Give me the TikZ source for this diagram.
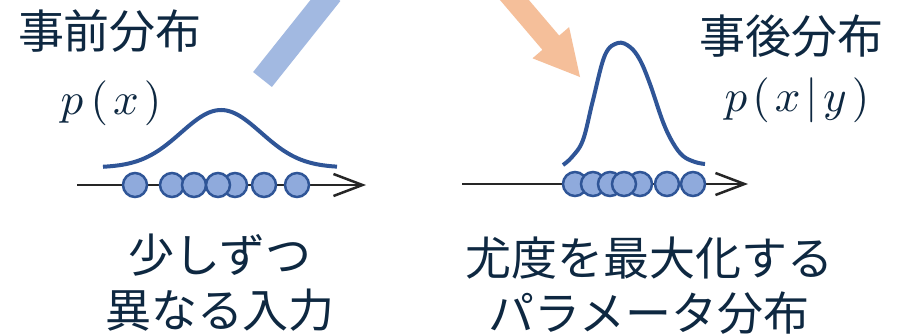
\documentclass[tikz,border=0pt]{standalone}
\usepackage{fontspec}
\newfontfamily\jp{Noto Sans CJK JP}
\usetikzlibrary{arrows.meta}
\definecolor{txt}{HTML}{0E2841}
\definecolor{curveblue}{HTML}{2F5597}
\definecolor{dotfill}{HTML}{8FAADC}
\definecolor{barblue}{HTML}{A2B9E1}
\definecolor{arrorange}{HTML}{F5BF9A}
\definecolor{axisgray}{HTML}{262626}
\begin{document}
\begin{tikzpicture}[x=1pt,y=-1pt,
  lbl/.style={font=\jp\fontsize{46}{55}\selectfont, text=txt, inner sep=0pt, align=center},
  mathlbl/.style={font=\fontsize{10}{12}\selectfont, text=txt, inner sep=0pt, scale=4.5, transform shape},
  dot/.style={circle, draw=curveblue, fill=dotfill, line width=2.5pt, minimum size=24pt, inner sep=0pt},
  axisline/.style={draw=axisgray, line width=2.5pt, -{Straight Barb[length=29pt,width=22pt]}},
  bell/.style={draw=curveblue, line width=4pt},
]
\clip (0,0) rectangle (898,335);
\fill[white] (0,0) rectangle (898,335);

% incoming arrows
\draw[barblue, line width=24pt] (262.5,79.5) -- (331,-6.5);
\fill[arrorange] (497,-3.5) -- (542.4,49.8) -- (532.5,58.3) -- (580,77) -- (569.1,27.1) -- (559.2,35.6) -- (513.8,-17.7) -- cycle;

% labels
\node[lbl] (prior) at (110,31.5) {事前分布};
\node[mathlbl] (px) at (111,103) {$p\mkern3mu(\mkern2mu x\mkern2mu)$};
\node[lbl] (post) at (791.5,36) {事後分布};
\node[mathlbl] (pxy) at (797,100) {$p\mkern2mu(\mkern2mu x\mkern2mu|\mkern2mu y\mkern2mu)$};
\node[lbl] (inL) at (220,283) {少しずつ\\異なる入力};
\node[lbl] (inR) at (649,286) {尤度を最大化する\\パラメータ分布};

% left axis, curve, dots
\coordinate (axL0) at (77,185);
\coordinate (axL1) at (366,185);
\draw[axisline] (axL0) -- (axL1);
\draw[bell] plot[domain=103:337, samples=90] (\x, {167.5 - 57.5*exp(-((\x-221)^2)/3200)});
\node[dot] (c1) at (135,185) {};
\node[dot] (c2) at (172,185) {};
\node[dot] (c3) at (194,185) {};
\node[dot] (c5) at (235,185) {};
\node[dot] (c4) at (218,185) {};
\node[dot] (c6) at (264,185) {};
\node[dot] (c7) at (297,185) {};

% right axis, curve, dots
\coordinate (axR0) at (462,184);
\coordinate (axR1) at (748,184);
\draw[axisline] (axR0) -- (axR1);
\draw[bell] plot[smooth, tension=0.6] coordinates {(563,165) (572,157) (583,140) (593,100) (605,55) (618,43) (630,47) (640,60) (650,84) (663,122) (673,143) (683,156) (695,162) (705,164)};
\node[dot] (d1) at (575,184) {};
\node[dot] (d2) at (593,184) {};
\node[dot] (d3) at (610,184) {};
\node[dot] (d5) at (640,184) {};
\node[dot] (d6) at (667,184) {};
\node[dot] (d7) at (693,184) {};
\node[dot] (d4) at (624,184) {};
\end{tikzpicture}
\end{document}
